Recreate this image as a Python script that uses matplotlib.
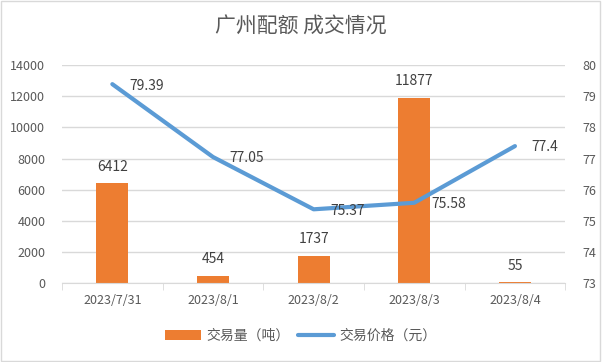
import matplotlib.pyplot as plt
from matplotlib.patches import Rectangle

plt.rcParams['font.family'] = ['Noto Sans CJK SC', 'DejaVu Sans']

dates = ['2023/7/31', '2023/8/1', '2023/8/2', '2023/8/3', '2023/8/4']
volume = [6412, 454, 1737, 11877, 55]
price = [79.39, 77.05, 75.37, 75.58, 77.4]
price_labels = ['79.39', '77.05', '75.37', '75.58', '77.4']

orange = '#ED7D31'
blue = '#5B9BD5'
txt = '#595959'
grid = '#D9D9D9'

fig = plt.figure(figsize=(6.02, 3.62), dpi=100)
ax = fig.add_axes([0.103, 0.218, 0.836, 0.602])
ax2 = ax.twinx()

x = list(range(len(dates)))
bars = ax.bar(x, volume, width=0.32, color=orange, zorder=2, label='交易量（吨）')
ax.set_ylim(0, 14000)
ax.set_yticks(range(0, 14001, 2000))
ax.set_xlim(-0.5, len(dates) - 0.5)
ax.set_xticks(x)
ax.set_xticklabels(dates)
ax.set_xticks([i + 0.5 for i in range(-1, len(dates))], minor=True)
ax.tick_params(axis='x', which='major', length=0, pad=8, labelsize=9, labelcolor=txt)
ax.tick_params(axis='x', which='minor', length=5, color=grid)
ax.tick_params(axis='y', length=0, pad=12, labelsize=9, labelcolor=txt)
ax.grid(axis='y', color=grid, linewidth=1, zorder=0)
for s in ['top', 'right', 'left']:
    ax.spines[s].set_visible(False)
ax.spines['bottom'].set_color(grid)

# 柱子数值
for b, v in zip(bars, volume):
    ax.annotate(str(v), (b.get_x() + b.get_width() / 2, v), xytext=(0, 7),
                textcoords='offset points', ha='center', va='bottom',
                fontsize=10, color='#404040')

ax2.plot(x, price, color=blue, linewidth=3, zorder=3, label='交易价格（元）',
         solid_capstyle='round')
ax2.set_ylim(73, 80)
ax2.set_yticks(range(73, 81))
ax2.tick_params(axis='y', length=0, pad=12, labelsize=9, labelcolor=txt)
for s in ['top', 'right', 'left', 'bottom']:
    ax2.spines[s].set_visible(False)
for xi, p, lab in zip(x, price, price_labels):
    ax2.annotate(lab, (xi, p), xytext=(12, -1), textcoords='offset points',
                 ha='left', va='center', fontsize=10, color='#404040')

fig.text(0.5, 0.925, '广州配额 成交情况', ha='center', va='center',
         fontsize=15, color=txt, fontweight='light')

h1, l1 = ax.get_legend_handles_labels()
h2, l2 = ax2.get_legend_handles_labels()
fig.legend(h1 + h2, l1 + l2, loc='center', bbox_to_anchor=(0.5, 0.072), ncol=2,
           frameon=False, fontsize=10, labelcolor=txt, handlelength=2.6,
           columnspacing=0.6, handletextpad=0.4)

fig.patches.append(Rectangle((0.002, 0.003), 0.995, 0.994, transform=fig.transFigure,
                             fill=False, edgecolor='#D9D9D9', linewidth=1))

fig.savefig('out.png', dpi=100, facecolor='white')
